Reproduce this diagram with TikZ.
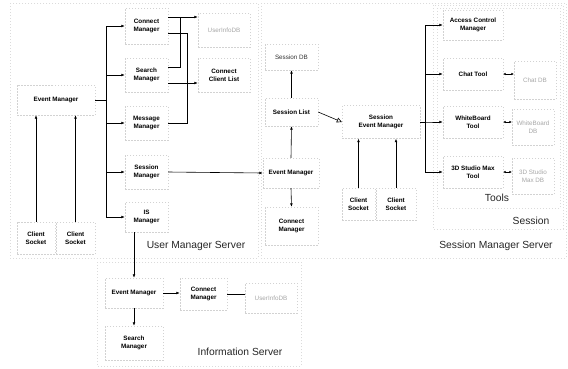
\documentclass[tikz,border=0pt]{standalone}
\usepackage{fontspec}
\setmainfont{Liberation Sans}
\usetikzlibrary{arrows.meta,calc}
\newcommand\myNodeFont{\fontsize{6.3}{8.3}\selectfont\bfseries}
\newcommand\myLabFont{\fontsize{10.3}{12}\selectfont}
\tikzset{
  bx/.style={draw=gray!35, dash pattern=on 1.5pt off 1.5pt, line width=0.4pt,
             inner sep=0pt, align=center, font=\myNodeFont, text=black},
  dbx/.style={bx, font=\fontsize{6.3}{8.3}\selectfont, text=gray!70},
  frame/.style={draw=gray!28, dash pattern=on 1pt off 2pt, line width=0.4pt},
  lab/.style={font=\myLabFont, text=black!85, inner sep=0pt},
  arr/.style={-{Latex[length=3.5pt,width=2.8pt]}, line width=0.6pt},
  ln/.style={line width=0.6pt},
  biarr/.style={{Latex[length=2.5pt,width=2.5pt]}-{Latex[length=2.5pt,width=2.5pt]}, line width=0.6pt},
  oarr/.style={-{Triangle[open,length=5pt,width=5pt]}, line width=0.6pt}
}
\begin{document}
\begin{tikzpicture}[x=1pt,y=-1pt]
\useasboundingbox (0,0) rectangle (568,368);
% region frames
\draw[frame] (10,3) rectangle (258,258);
\draw[frame] (261,3) rectangle (566,258);
\draw[frame] (433,5) rectangle (563,229);
\draw[frame] (437,8) rectangle (560,208);
\draw[frame] (97,262) rectangle (301,366);
% User Manager Server
\node[bx, minimum width=78pt, minimum height=30pt] (em1) at (56,100) {Event Manager};
\node[bx, minimum width=38pt, minimum height=32pt] (cs1) at (36,238) {Client\\Socket};
\node[bx, minimum width=39pt, minimum height=32pt] (cs2) at (75.5,238) {Client\\Socket};
\node[bx, minimum width=43pt, minimum height=36pt] (cm1) at (146.5,26) {Connect\\Manager};
\node[bx, minimum width=43pt, minimum height=34pt] (sm1) at (146.5,75) {Search\\Manager};
\node[bx, minimum width=43pt, minimum height=34pt] (mm1) at (146.5,123) {Message\\Manager};
\node[bx, minimum width=43pt, minimum height=34pt] (ssm1) at (146.5,172) {Session\\Manager};
\node[bx, minimum width=43pt, minimum height=30pt] (ism1) at (146.5,217) {IS\\Manager};
\node[dbx, minimum width=52pt, minimum height=34pt] (udb1) at (224,30) {UserInfoDB};
\node[bx, minimum width=52pt, minimum height=34pt] (ccl) at (224,75) {Connect\\Client List};
\node[lab] (umsl) at (196,246) {User Manager Server};
% Session Manager Server
\node[bx, minimum width=53pt, minimum height=26pt, font=\fontsize{6.3}{8.3}\selectfont, text=black!80] (sdb) at (291.5,57) {Session DB};
\node[bx, minimum width=53pt, minimum height=28pt] (sl) at (291.5,112) {Session List};
\node[bx, minimum width=56pt, minimum height=30pt] (em2) at (291,173) {Event Manager};
\node[bx, minimum width=53pt, minimum height=38pt] (cm2) at (291.5,226) {Connect\\Manager};
\node[bx, minimum width=78pt, minimum height=33pt] (sem) at (381,122) {Session\\Event Manager};
\node[bx, minimum width=33pt, minimum height=32pt] (cs3) at (358.5,204) {Client\\Socket};
\node[bx, minimum width=40pt, minimum height=32pt] (cs4) at (396,204) {Client\\Socket};
\node[bx, minimum width=60pt, minimum height=30pt] (acm) at (473,25) {Access Control\\Manager};
\node[bx, minimum width=60pt, minimum height=32pt] (ct) at (473,74) {Chat Tool};
\node[bx, minimum width=60pt, minimum height=32pt] (wbt) at (473,122) {WhiteBoard\\Tool};
\node[bx, minimum width=60pt, minimum height=32pt] (sdt) at (473,172) {3D Studio Max\\Tool};
\node[dbx, minimum width=42pt, minimum height=38pt] (cdb) at (535,80) {Chat DB};
\node[dbx, minimum width=42pt, minimum height=36pt] (wbdb) at (533,127) {WhiteBoard\\DB};
\node[dbx, minimum width=42pt, minimum height=36pt] (sddb) at (533,176) {3D Studio\\Max DB};
\node[lab] (tl) at (497,198) {Tools};
\node[lab] (ssl) at (531,221) {Session};
\node[lab] (smsl) at (496,246) {Session Manager Server};
% Information Server
\node[bx, minimum width=58pt, minimum height=30pt] (em3) at (134,293) {Event Manager};
\node[bx, minimum width=58pt, minimum height=34pt] (sm3) at (134,343) {Search\\Manager};
\node[bx, minimum width=47pt, minimum height=32pt] (cm3) at (203.5,294) {Connect\\Manager};
\node[dbx, minimum width=52pt, minimum height=30pt] (udb3) at (271,298) {UserInfoDB};
\node[lab] (isl) at (240,352) {Information Server};
% --- connectors: User Manager Server
\draw[arr] (cs1.north) -- (cs1.north |- em1.south);
\draw[arr] (cs2.north) -- (cs2.north |- em1.south);
\foreach \n in {cm1,sm1,mm1,ssm1,ism1}
  \draw[arr] (em1.east) -- ++(11,0) |- (\n.west);
\coordinate (a1) at ([yshift=9pt]cm1.east);
\coordinate (a2) at ([yshift=8pt]sm1.east);
\draw[arr] (a1) -- (a1 -| udb1.west);
\draw[ln] (a2) -| ($(a1)+(12,0)$);
\coordinate (b1) at ([yshift=-7pt]cm1.east);
\draw[ln] (b1) -- ++(19,0) |- (mm1.east);
\coordinate (c1) at ([yshift=-8pt]sm1.east);
\draw[arr] (c1) -- (c1 -| ccl.west);
\draw[arr] (ssm1.east) -- (em2.west);
\draw[arr] (ism1.south -| em3.north) -- (em3.north);
% --- Session Manager Server
\draw[arr] (sl.north) -- (sdb.south);
\draw[arr] (em2.north) -- (sl.south);
\draw[arr] (em2.south) -- (cm2.north);
\draw[oarr] (sl.east) -- (sem.west);
\draw[arr] (cs3.north) -- (cs3.north |- sem.south);
\draw[arr] (cs4.north) -- (cs4.north |- sem.south);
\foreach \n in {acm,ct,wbt,sdt}
  \draw[arr] (sem.east) -- ++(5,0) |- (\n.west);
\draw[biarr] (ct.east) -- (ct.east -| cdb.west);
\draw[biarr] (wbt.east) -- (wbt.east -| wbdb.west);
\draw[biarr] (sdt.east) -- (sdt.east -| sddb.west);
% --- Information Server
\draw[arr] (em3.east) -- (em3.east -| cm3.west);
\draw[ln] (cm3.east) -- (cm3.east -| udb3.west);
\draw[arr] (em3.south) -- (sm3.north);
\end{tikzpicture}
\end{document}
